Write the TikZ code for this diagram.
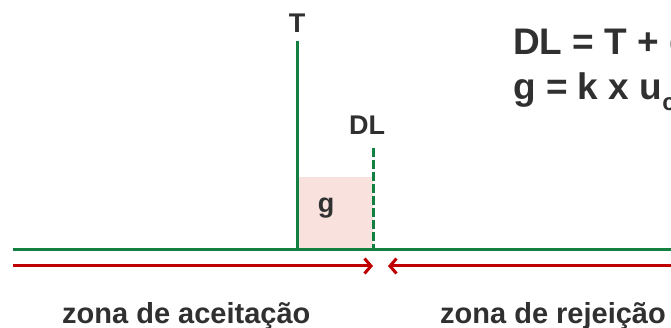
\documentclass[tikz,border=0pt]{standalone}
\usepackage{fontspec}
\setmainfont{Liberation Sans}
\usetikzlibrary{arrows.meta}
\definecolor{linegreen}{RGB}{18,128,64}
\definecolor{arrowred}{RGB}{192,0,0}
\definecolor{txtgray}{RGB}{48,48,48}
\definecolor{gfill}{RGB}{249,225,222}
\begin{document}
\begin{tikzpicture}[x=1pt,y=-1pt,
  lbl/.style={text=txtgray, font=\fontsize{27}{30}\selectfont\bfseries, inner sep=0pt},
  zonelbl/.style={text=txtgray, font=\fontsize{29}{32}\selectfont\bfseries, inner sep=0pt, anchor=base west},
  formula/.style={text=txtgray, font=\fontsize{37}{40}\selectfont\bfseries, inner sep=0pt, anchor=base west},
  axisline/.style={draw=linegreen, line width=3pt},
  limitline/.style={draw=linegreen, line width=3pt},
  limitdash/.style={draw=linegreen, line width=3pt, dash pattern=on 9pt off 3pt},
  zonearrow/.style={draw=arrowred, line width=3pt, -{Straight Barb[length=6.5pt,width=15pt]}}]
\useasboundingbox (0,0) rectangle (671,328);
\clip (0,0) rectangle (671,328);

% reference points
\coordinate (axL) at (13,250);
\coordinate (axR) at (680,250);
\coordinate (Ttop) at (297,41);
\coordinate (Tbot) at (297,250);
\coordinate (DLtop) at (373,148);
\coordinate (DLbot) at (373,250);
\coordinate (accL) at (13,266);
\coordinate (accR) at (373,266);
\coordinate (rejR) at (680,266);
\coordinate (rejL) at (388,266);

% guard band between T and DL
\fill[gfill] (297,177) rectangle (373,250);

% limits and axis
\draw[limitline] (Ttop) -- (Tbot);
\draw[limitdash] (DLtop) -- (DLbot);
\draw[axisline] (axL) -- (axR);

% zone arrows
\draw[zonearrow] (accL) -- (accR);
\draw[zonearrow] (rejR) -- (rejL);

% labels
\node[lbl, anchor=base] (Tlbl) at (297,33) {T};
\node[lbl, anchor=base] (DLlbl) at (367,135) {DL};
\node[lbl, anchor=base] (glbl) at (326,213) {g};
\node[zonelbl] (acc) at (62,323) {zona de aceitação};
\node[zonelbl] (rej) at (440,323) {zona de rejeição};

% formulas
\node[formula] (f1) at (513,55) {DL = T + g};
\node[formula] (f2) at (513,100) {g = k x u\raisebox{-0.28em}{\fontsize{24}{24}\selectfont c}};
\end{tikzpicture}
\end{document}
